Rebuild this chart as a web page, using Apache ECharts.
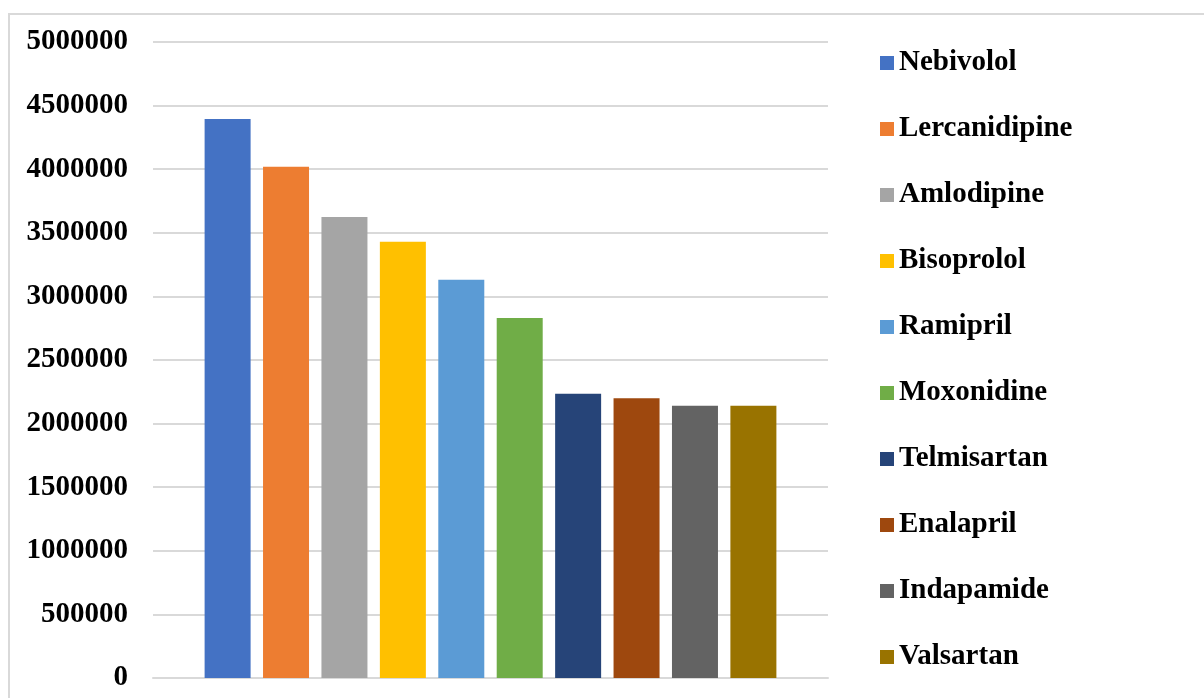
<!DOCTYPE html>
<html>
<head>
<meta charset="utf-8">
<script src="https://cdn.jsdelivr.net/npm/echarts@6/dist/echarts.min.js"></script>
<style>
html, body { margin: 0; padding: 0; background: #fff; }
#chart { width: 1204px; height: 698px; }
</style>
</head>
<body>
<div id="chart"></div>
<script>
var drugs = ["Nebivolol", "Lercanidipine", "Amlodipine", "Bisoprolol", "Ramipril",
    "Moxonidine", "Telmisartan", "Enalapril", "Indapamide", "Valsartan"];
var amounts = [4395000, 4020000, 3625000, 3430000, 3130000,
    2830000, 2235000, 2200000, 2140000, 2140000];
var colors = ["#4472C4", "#ED7D31", "#A5A5A5", "#FFC000", "#5B9BD5",
    "#70AD47", "#264478", "#9E480E", "#636363", "#997300"];

var fontFamily = "'Liberation Serif', 'Times New Roman', serif";

var series = [];
for (var i = 0; i < drugs.length; i++) {
    series.push({
        name: drugs[i],
        type: 'bar',
        data: [amounts[i]],
        barWidth: 46,
        barGap: '27%',
        itemStyle: { color: colors[i] }
    });
}

var myChart = echarts.init(document.getElementById('chart'));
myChart.setOption({
    animation: false,
    color: colors,
    graphic: [{
        type: 'rect',
        shape: { x: 9, y: 14, width: 1400, height: 900 },
        style: { fill: 'none', stroke: '#d9d9d9', lineWidth: 2 },
        silent: true
    }],
    grid: { left: 153, right: 376, top: 42, bottom: 20 },
    legend: {
        orient: 'vertical',
        left: 875,
        top: 43,
        icon: 'rect',
        itemWidth: 14,
        itemHeight: 14,
        itemGap: 36,
        textStyle: {
            fontFamily: fontFamily,
            fontWeight: 'bold',
            fontSize: 29,
            lineHeight: 30,
            color: '#000'
        },
        data: drugs
    },
    xAxis: {
        type: 'category',
        data: [''],
        axisTick: { show: false },
        axisLabel: { show: false },
        axisLine: { lineStyle: { color: '#d9d9d9', width: 2 } }
    },
    yAxis: {
        type: 'value',
        min: 0,
        max: 5000000,
        interval: 500000,
        axisLine: { show: false },
        axisTick: { show: false },
        splitLine: { lineStyle: { color: '#d9d9d9', width: 2 } },
        axisLabel: {
            margin: 25,
            fontFamily: fontFamily,
            fontWeight: 'bold',
            fontSize: 29,
            color: '#000',
            formatter: function (v) { return String(v); }
        }
    },
    series: series
});
</script>
</body>
</html>
